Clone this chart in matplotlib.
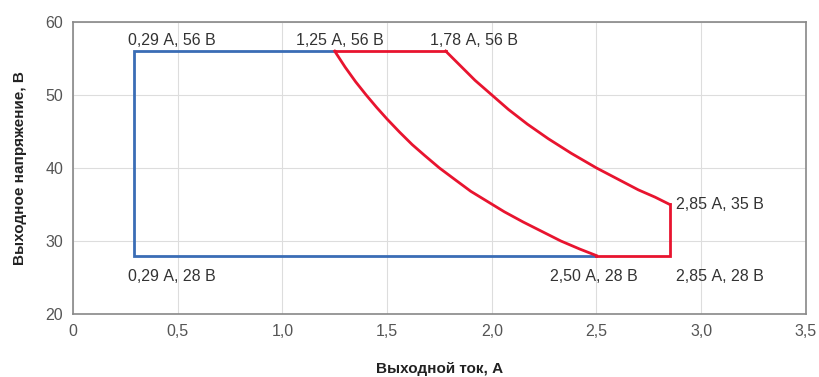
import matplotlib.pyplot as plt

# blue region (low power)
blue_i = [1.25, 0.29, 0.29, 2.50]
blue_u = [56, 56, 28, 28]

# red region
red_top_i = [1.25, 1.78]
red_top_u = [56, 56]
inner_i = [1.25, 1.30, 1.35, 1.40, 1.45, 1.50, 1.56, 1.62, 1.68, 1.75, 1.82, 1.90,
           1.98, 2.06, 2.15, 2.24, 2.33, 2.42, 2.50]
inner_u = [56, 53.8, 51.8, 50.0, 48.3, 46.7, 44.9, 43.2, 41.7, 40.0, 38.5, 36.8,
           35.4, 34.0, 32.6, 31.3, 30.0, 28.9, 28]
outer_i = [1.78, 1.85, 1.92, 2.00, 2.08, 2.17, 2.27, 2.38, 2.50, 2.60, 2.70, 2.78, 2.85]
outer_u = [56, 54.0, 52.0, 50.0, 48.0, 46.0, 44.0, 42.0, 40.0, 38.5, 37.0, 36.0, 35]
edge_i = [2.85, 2.85, 2.50]
edge_u = [35, 28, 28]

labels = [
    (0.29, 56, '0,29 А, 56 В', (-6, 11), 'left'),
    (1.25, 56, '1,25 А, 56 В', (5, 11), 'center'),
    (1.78, 56, '1,78 А, 56 В', (28, 11), 'center'),
    (2.85, 35, '2,85 А, 35 В', (6, 0), 'left'),
    (0.29, 28, '0,29 А, 28 В', (-6, -21), 'left'),
    (2.50, 28, '2,50 А, 28 В', (-3, -21), 'center'),
    (2.85, 28, '2,85 А, 28 В', (6, -21), 'left'),
]

xticks = [0, 0.5, 1.0, 1.5, 2.0, 2.5, 3.0, 3.5]
xtick_labels = ['0', '0,5', '1,0', '1,5', '2,0', '2,5', '3,0', '3,5']
yticks = [20, 30, 40, 50, 60]

plt.rcParams['font.family'] = ['Liberation Sans', 'DejaVu Sans']

fig = plt.figure(figsize=(8.19, 3.77), dpi=100)
ax = fig.add_axes([0.089, 0.167, 0.895, 0.775])

blue = '#3a6db5'
red = '#e8142f'
ax.plot(blue_i, blue_u, color=blue, lw=2.0, solid_joinstyle='miter', zorder=3)
ax.plot(red_top_i, red_top_u, color=red, lw=2.0, zorder=3)
ax.plot(inner_i, inner_u, color=red, lw=2.0, zorder=3)
ax.plot(outer_i, outer_u, color=red, lw=2.0, zorder=3)
ax.plot(edge_i, edge_u, color=red, lw=2.0, solid_joinstyle='miter', zorder=3)

for x, y, txt, off, ha in labels:
    ax.annotate(txt, xy=(x, y), xytext=off, textcoords='offset pixels',
                ha=ha, va='center', fontsize=11.5, color='#333333')

ax.set_xlim(0, 3.5)
ax.set_ylim(20, 60)
ax.set_xticks(xticks)
ax.set_xticklabels(xtick_labels)
ax.set_yticks(yticks)
ax.tick_params(length=0, labelsize=11.5, labelcolor='#555555', pad=7)
ax.grid(True, color='#dddddd', lw=0.8)
ax.set_axisbelow(True)
for s in ax.spines.values():
    s.set_color('#888888')
    s.set_linewidth(1.2)

ax.set_xlabel('Выходной ток, А', fontsize=11, fontweight='bold', color='#222222', labelpad=17)
ax.set_ylabel('Выходное напряжение, В', fontsize=11, fontweight='bold', color='#222222', labelpad=13)

fig.savefig('out.png', dpi=100)
